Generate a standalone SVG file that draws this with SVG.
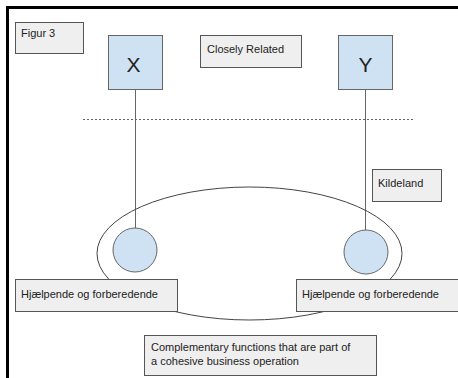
<svg xmlns="http://www.w3.org/2000/svg" width="458" height="378" viewBox="0 0 458 378">
<style>
.lbl{fill:#efefef;stroke:#555;stroke-width:1}
.node{fill:#cfe2f3;stroke:#666;stroke-width:1}
.t{font-family:"Liberation Sans",Arial,sans-serif;font-size:11px;fill:#222}
.big{font-family:"Liberation Sans",Arial,sans-serif;font-size:21px;fill:#222;text-anchor:middle}
.conn{stroke:#666;stroke-width:1;fill:none}
</style>
<rect width="458" height="378" fill="#fff"/>
<path d="M7.5,378 V7.5 H458" fill="none" stroke="#000" stroke-width="3"/>
<g id="connectors">
<line class="conn" x1="83" y1="119.5" x2="414" y2="119.5" stroke-dasharray="2,2"/>
<line class="conn" x1="135.5" y1="89" x2="135.5" y2="228"/>
<line class="conn" x1="365.5" y1="89" x2="365.5" y2="230"/>
<ellipse cx="249.5" cy="253.5" rx="152.5" ry="66.5" fill="none" stroke="#444" stroke-width="1"/>
</g>
<g id="figur3"><rect class="lbl" x="15.5" y="22.5" width="68" height="31"/><text class="t" x="21" y="37" font-size="10">Figur 3</text></g>
<g id="closely"><rect class="lbl" x="200.5" y="35.5" width="101" height="32"/><text class="t" x="207" y="53">Closely Related</text></g>
<g id="X"><rect class="node" x="108.5" y="35.5" width="54" height="54"/><text class="big" x="133.5" y="72">X</text></g>
<g id="Y"><rect class="node" x="338.5" y="35.5" width="54" height="54"/><text class="big" x="365.5" y="72">Y</text></g>
<g id="kildeland"><rect class="lbl" x="372.5" y="169.5" width="69" height="32"/><text class="t" x="378" y="187">Kildeland</text></g>
<g id="c1"><circle class="node" cx="135" cy="250" r="22"/></g>
<g id="c2"><circle class="node" cx="366" cy="252" r="22"/></g>
<g id="h1"><rect class="lbl" x="15.5" y="279.5" width="162" height="32"/><text class="t" x="21" y="298">Hjælpende og forberedende</text></g>
<g id="h2"><rect class="lbl" x="296.5" y="279.5" width="162" height="32"/><text class="t" x="302" y="298">Hjælpende og forberedende</text></g>
<g id="comp"><rect class="lbl" x="144.5" y="335.5" width="232" height="40"/><text class="t" x="151" y="351">Complementary functions that are part of</text><text class="t" x="151" y="365">a cohesive business operation</text></g>
</svg>
